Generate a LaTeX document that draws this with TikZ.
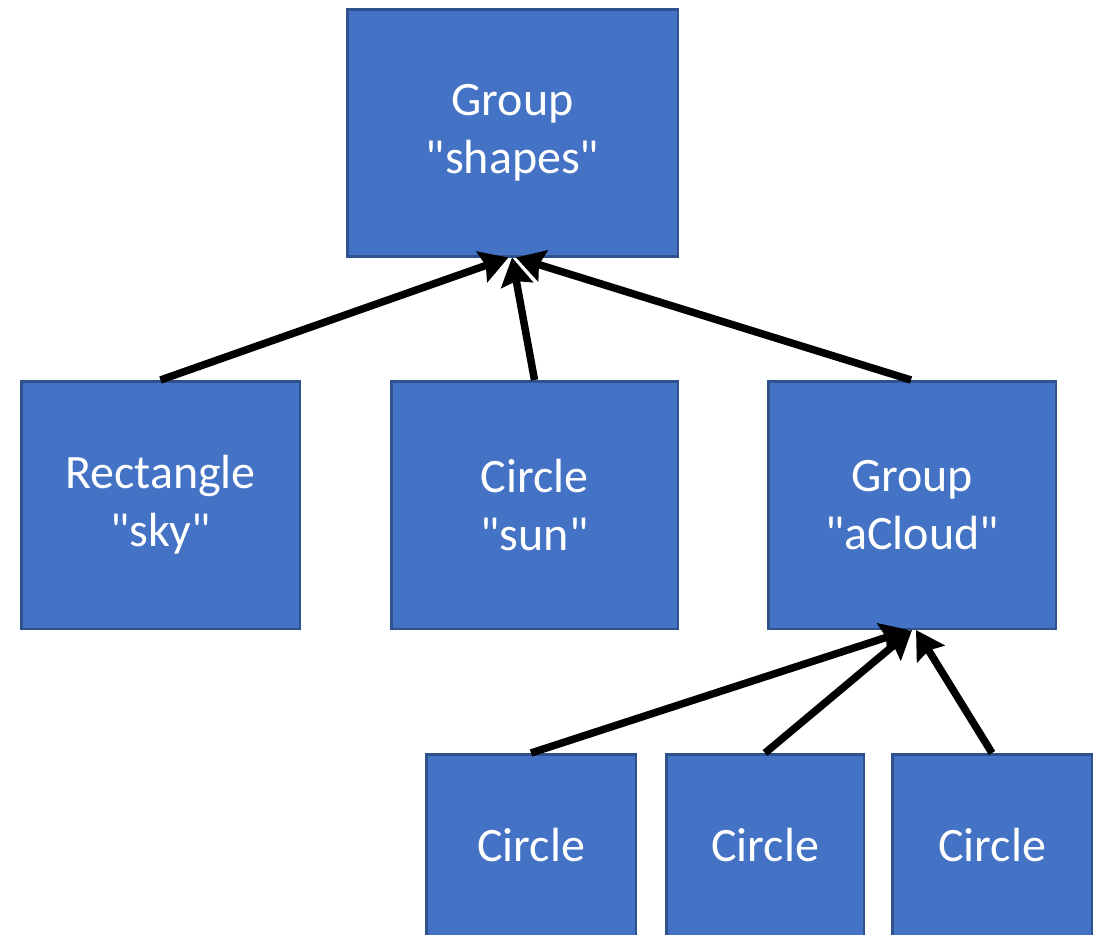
\documentclass[tikz,border=0pt]{standalone}
\usepackage{fontspec}
\setmainfont{Carlito}[Ligatures=TeXOff]
\usetikzlibrary{arrows.meta}
\definecolor{boxblue}{HTML}{4472C4}
\definecolor{boxedge}{HTML}{2F528F}
\begin{document}
\begin{tikzpicture}[x=1pt, y=-1pt, every node/.style={draw=boxedge,line width=2.5pt,fill=boxblue,rectangle,align=center,text=white,inner sep=0pt,font=\fontsize{48}{58}\selectfont}, upper/.style={minimum height=247.5pt}, lower/.style={minimum height=181.5pt}, link/.style={line width=7.5pt,-{Stealth[length=28pt,width=32pt,inset=4pt]}}]
	\useasboundingbox (0,0) rectangle (1099,934);
	\node[minimum width=330.5pt, minimum height=246.5pt] (shapes) at (512.5,133) {Group\\"shapes"};
	\node[upper, minimum width=278.5pt] (sky) at (160.5,505) {Rectangle\\"sky"};
	\node[upper, minimum width=286.5pt] (sun) at (534.5,505) {Circle\\"sun"};
	\node[upper, minimum width=287.5pt] (cloud) at (912,505) {Group\\"aCloud"};
	\node[lower, minimum width=209.5pt] (puffa) at (531,845) {Circle};
	\node[lower, minimum width=197.5pt] (puffb) at (765,845) {Circle};
	\node[lower, minimum width=199.5pt] (puffc) at (992,845) {Circle};
	% arrows point up to the group that holds them
	\draw[link] (sky.north) -- ([xshift=-4pt]shapes.south);
	\draw[link] (sun.north) -- ([xshift=-0.5pt]shapes.south);
	\draw[link] ([xshift=-1pt]cloud.north) -- ([xshift=3.5pt]shapes.south);
	\draw[link] (puffa.north) -- ([xshift=-3pt]cloud.south);
	\draw[link] (puffb.north) -- ([xshift=0pt]cloud.south);
	\draw[link] (puffc.north) -- ([xshift=4pt]cloud.south);
\end{tikzpicture}
\end{document}
